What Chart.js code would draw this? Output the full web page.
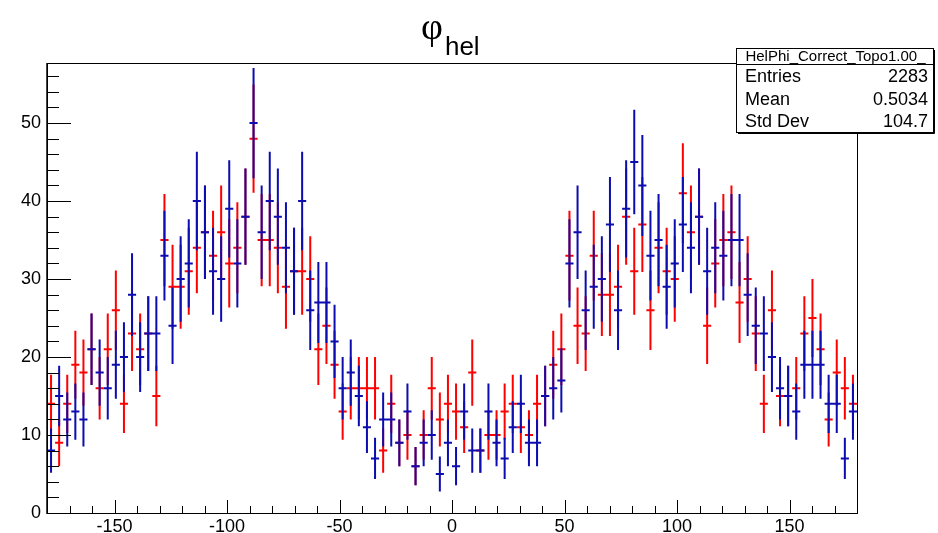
<!DOCTYPE html>
<html>
<head>
<meta charset="utf-8">
<script src="https://cdn.jsdelivr.net/npm/chart.js@4.4.1/dist/chart.umd.min.js"></script>
<style>
  html, body { margin: 0; padding: 0; background: #ffffff; }
  #wrap { width: 938px; height: 533px; position: relative; }
</style>
</head>
<body>
<div id="wrap"><canvas id="c" width="938" height="533"></canvas></div>
<script>
// Histogram binning of the helicity angle (degrees)
const PHI_MIN = -180;
const PHI_MAX = 180;
const N_BINS = 100;

// Bin contents, blue histogram (HelPhi_Correct_Topo1.00_)
const blueCounts = [
   8, 15, 12, 13, 12, 21, 18, 16, 19, 20,
  28, 20, 23, 23, 33, 24, 30, 32, 40, 36,
  31, 30, 39, 32, 38, 50, 36, 40, 38, 34,
  31, 40, 26, 27, 27, 22, 16, 18, 15, 11,
   7, 12, 12,  9, 13,  6,  9, 10,  5,  9,
   6, 13,  8,  8, 13,  9,  7, 11, 14,  9,
   9, 15, 16, 17, 32, 36, 26, 29, 30, 37,
  26, 39, 45, 42, 33, 35, 29, 32, 37, 34,
  38, 31, 34, 33, 35, 35, 28, 24, 23, 20,
  16, 15, 13, 19, 19, 19, 14, 14,  7, 13
];

// Bin contents, red histogram
const redCounts = [
  14,  9, 14, 19, 18, 21, 16, 21, 26, 14,
  23, 21, 23, 15, 35, 29, 29, 31, 34, 36,
  33, 36, 32, 34, 38, 48, 35, 35, 34, 29,
  31, 31, 30, 21, 24, 19, 13, 16, 16, 16,
  16,  8, 14,  9, 10,  6, 10, 16, 12, 14,
  13, 11, 18,  8, 10, 10, 13, 14, 11, 10,
  14, 15, 19, 21, 33, 24, 23, 33, 28, 28,
  29, 38, 31, 37, 26, 34, 31, 30, 41, 36,
  38, 24, 32, 35, 36, 27, 30, 23, 14, 26,
  15, 15, 16, 23, 25, 21, 12, 18, 16, 14
];

// Axis labels
const xTickValues = [-150, -100, -50, 0, 50, 100, 150];
const yTickValues = [0, 10, 20, 30, 40, 50];
const Y_MAX = 57.7;

// Statistics box
const histName = 'HelPhi_Correct_Topo1.00_';
const statsLabels = ['Entries', 'Mean', 'Std Dev'];
const statsValues = ['2283', '0.5034', '104.7'];

const BLUE = '#0c0cb0';
const RED = '#ff0000';
const FONT = '"Liberation Sans", Arial, Helvetica, sans-serif';
const SYMBOL_FONT = '"Liberation Serif", "Times New Roman", serif';

// Error-bar polyline for one histogram: a vertical sqrt(N) bar and a
// horizontal bin-width marker per bin, separated by gaps.
function errorBarPoints(counts) {
  const w = (PHI_MAX - PHI_MIN) / N_BINS;
  const pts = [];
  counts.forEach((n, i) => {
    const lo = PHI_MIN + i * w;
    const hi = lo + w;
    const c = lo + w / 2;
    const e = Math.sqrt(n);
    pts.push({ x: c, y: n - e }, { x: c, y: n + e }, { x: c, y: null });
    pts.push({ x: lo, y: n }, { x: hi, y: n }, { x: hi, y: null });
  });
  return pts;
}

// Frame plus inward-pointing major/minor ticks on the left and bottom axes
const frameAndTicks = {
  id: 'frameAndTicks',
  afterDatasetsDraw(chart) {
    const { ctx, chartArea: a, scales: { x, y } } = chart;
    ctx.save();
    ctx.strokeStyle = '#000';
    ctx.lineWidth = 1;
    ctx.beginPath();
    for (let v = 0; v <= Y_MAX; v += 2) {
      const py = Math.round(y.getPixelForValue(v)) + 0.5;
      const len = (v % 10 === 0) ? 24 : 12;
      ctx.moveTo(a.left, py);
      ctx.lineTo(a.left + len, py);
    }
    for (let v = PHI_MIN; v <= PHI_MAX; v += 10) {
      const px = Math.round(x.getPixelForValue(v)) + 0.5;
      const len = (v % 50 === 0) ? 13 : 7;
      ctx.moveTo(px, a.bottom);
      ctx.lineTo(px, a.bottom - len);
    }
    ctx.stroke();
    ctx.strokeRect(Math.round(a.left) + 0.5, Math.round(a.top) + 0.5,
                   Math.round(a.right - a.left), Math.round(a.bottom - a.top));
    // slightly heavier left axis line
    ctx.beginPath();
    ctx.strokeStyle = '#444';
    ctx.moveTo(Math.round(a.left) - 0.5, a.top);
    ctx.lineTo(Math.round(a.left) - 0.5, a.bottom + 1);
    ctx.stroke();
    ctx.restore();
  }
};

// Title with subscript, and the statistics box
const annotations = {
  id: 'annotations',
  afterDraw(chart) {
    const ctx = chart.ctx;
    ctx.save();
    ctx.fillStyle = '#000';
    ctx.textBaseline = 'alphabetic';
    ctx.textAlign = 'left';
    ctx.font = '38px ' + SYMBOL_FONT;
    ctx.fillText('\u03c6', 421, 39);
    const phiW = ctx.measureText('\u03c6').width;
    ctx.font = '26px ' + FONT;
    ctx.fillText('hel', 421 + phiW + 2, 55);

    // stats box
    const bx = 736, by = 48, bw = 197, bh = 84, sep = 16;
    ctx.fillStyle = '#fff';
    ctx.fillRect(bx, by, bw, bh);
    ctx.strokeStyle = '#000';
    ctx.lineWidth = 1;
    ctx.strokeRect(bx + 0.5, by + 0.5, bw, bh);
    ctx.beginPath();
    ctx.moveTo(bx + bw + 1.5, by + 2);
    ctx.lineTo(bx + bw + 1.5, by + bh + 1.5);
    ctx.lineTo(bx + 2, by + bh + 1.5);
    ctx.moveTo(bx, by + sep + 0.5);
    ctx.lineTo(bx + bw, by + sep + 0.5);
    ctx.stroke();

    ctx.fillStyle = '#000';
    ctx.textBaseline = 'middle';
    ctx.textAlign = 'center';
    ctx.font = '15px ' + FONT;
    ctx.fillText(histName, bx + bw / 2 + 1, by + sep / 2 + 1);

    ctx.font = '18px ' + FONT;
    const rowY = [77, 100, 122];
    statsLabels.forEach((t, k) => {
      ctx.textAlign = 'left';
      ctx.fillText(t, bx + 9, rowY[k]);
      ctx.textAlign = 'right';
      ctx.fillText(statsValues[k], bx + bw - 5, rowY[k]);
    });
    ctx.restore();
  }
};

new Chart(document.getElementById('c'), {
  type: 'scatter',
  data: {
    datasets: [
      {
        label: histName,
        data: errorBarPoints(blueCounts),
        borderColor: BLUE,
        backgroundColor: BLUE,
        borderWidth: 2,
        showLine: true,
        spanGaps: false,
        pointRadius: 0,
        borderCapStyle: 'butt',
        order: 0
      },
      {
        label: 'red',
        data: errorBarPoints(redCounts),
        borderColor: RED,
        backgroundColor: RED,
        borderWidth: 2,
        showLine: true,
        spanGaps: false,
        pointRadius: 0,
        borderCapStyle: 'butt',
        order: 1
      }
    ]
  },
  options: {
    responsive: false,
    maintainAspectRatio: false,
    animation: false,
    devicePixelRatio: 1,
    layout: { padding: { left: 0, right: 81, top: 63, bottom: 0 } },
    plugins: {
      legend: { display: false },
      tooltip: { enabled: false },
      title: { display: false }
    },
    scales: {
      x: {
        type: 'linear',
        min: PHI_MIN,
        max: PHI_MAX,
        grid: { display: false, drawTicks: false },
        border: { display: false },
        afterBuildTicks: s => { s.ticks = xTickValues.map(v => ({ value: v })); },
        afterFit: s => { s.height = 20; },
        ticks: {
          color: '#000',
          padding: 3,
          maxRotation: 0,
          autoSkip: false,
          font: { family: FONT, size: 18 },
          callback: v => String(v)
        }
      },
      y: {
        type: 'linear',
        min: 0,
        max: Y_MAX,
        grid: { display: false, drawTicks: false },
        border: { display: false },
        afterBuildTicks: s => { s.ticks = yTickValues.map(v => ({ value: v })); },
        afterFit: s => { s.width = 47; },
        ticks: {
          color: '#000',
          padding: 6,
          autoSkip: false,
          font: { family: FONT, size: 18 },
          callback: v => String(v)
        }
      }
    }
  },
  plugins: [frameAndTicks, annotations]
});
</script>
</body>
</html>
